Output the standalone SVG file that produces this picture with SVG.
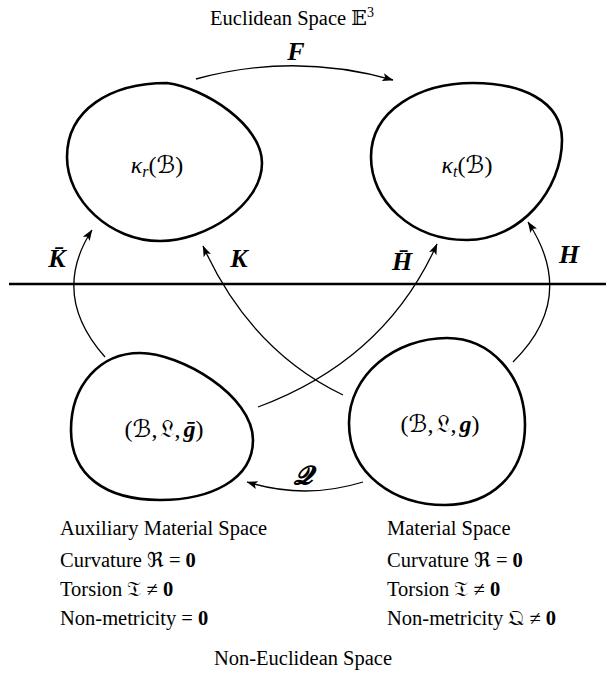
<svg xmlns="http://www.w3.org/2000/svg" width="607" height="673" viewBox="0 0 607 673">
<style>
.t{font-family:"Liberation Serif","DejaVu Serif","DejaVu Sans",serif;font-size:20.5px;fill:#000}
.m{font-family:"Liberation Serif","DejaVu Serif","DejaVu Sans",serif;font-size:24px;fill:#000}
.lb{font-family:"Liberation Serif","DejaVu Serif",serif;font-size:26px;font-weight:bold;font-style:italic;fill:#000}
.b{font-weight:bold}
.blob{fill:none;stroke:#000;stroke-width:2.6}
.c{fill:none;stroke:#000;stroke-width:1.3}
.sep{stroke:#000;stroke-width:2.6}
</style>
<defs>
<marker id="ah" viewBox="0 0 11 8" refX="10.5" refY="4" markerWidth="11" markerHeight="8" markerUnits="userSpaceOnUse" orient="auto">
<path d="M0,0 L11,4 L0,8 L2.5,4 Z" fill="#000"/>
</marker>
</defs>

<text class="t" x="292" y="25" text-anchor="middle">Euclidean Space 𝔼<tspan dy="-8" font-size="14">3</tspan></text>

<g id="kappa_r">
<path class="blob" d="M167,83 C205,88 262,125 262,163 C262,205 205,241 160,241 C110,241 67,200 67,157 C67,110 110,83 167,83 Z"/>
<text class="m" x="157" y="173" text-anchor="middle"><tspan font-style="italic">κ</tspan><tspan font-style="italic" font-size="16" dy="4">r</tspan><tspan dy="-4">(ℬ)</tspan></text>
</g>

<g id="kappa_t">
<path class="blob" d="M473,83 C520,83 562,100 562,140 C562,190 520,240 467,240 C410,240 371,200 371,157 C371,110 420,83 473,83 Z"/>
<text class="m" x="467" y="173" text-anchor="middle"><tspan font-style="italic">κ</tspan><tspan font-style="italic" font-size="16" dy="4">t</tspan><tspan dy="-4">(ℬ)</tspan></text>
</g>

<g id="aux_material">
<path class="blob" d="M140,353 C180,353 253,395 253,440 C253,480 210,500 160,500 C105,500 71,475 71,430 C71,385 100,353 140,353 Z"/>
<text class="m" x="164" y="437" text-anchor="middle">(ℬ,<tspan dx="3">𝔏</tspan>,<tspan dx="3" font-weight="bold" font-style="italic">ḡ</tspan>)</text>
</g>

<g id="material">
<path class="blob" d="M447,338 C490,338 525,375 525,425 C525,475 490,505 445,505 C395,505 349,475 349,423 C349,375 395,338 447,338 Z"/>
<text class="m" x="440" y="432" text-anchor="middle">(ℬ,<tspan dx="3">𝔏</tspan>,<tspan dx="3" font-weight="bold" font-style="italic">g</tspan>)</text>
</g>

<line class="sep" x1="9" y1="284" x2="606" y2="284"/>

<g id="connectors">
<path class="c" d="M196,79 Q294,52 393,80" marker-end="url(#ah)"/>
<path class="c" d="M105,357 Q50,295 92,230" marker-end="url(#ah)"/>
<path class="c" d="M343,395 Q250,350 203,246" marker-end="url(#ah)"/>
<path class="c" d="M258,407 Q385,360 437,244" marker-end="url(#ah)"/>
<path class="c" d="M513,362 Q578,298 528,222" marker-end="url(#ah)"/>
<path class="c" d="M363,482 Q305,500 247,482" marker-end="url(#ah)"/>
</g>

<g id="labels">
<text class="lb" x="296" y="60" text-anchor="middle">F</text>
<text class="lb" x="57" y="267" text-anchor="middle">K̄</text>
<text class="lb" x="239" y="267" text-anchor="middle">K</text>
<text class="lb" x="402" y="270" text-anchor="middle">H̄</text>
<text class="lb" x="569" y="263" text-anchor="middle">H</text>
<text class="lb" x="303" y="484" text-anchor="middle">𝓠</text>
</g>

<g id="aux_text">
<text class="t" x="60" y="535">Auxiliary Material Space</text>
<text class="t" x="60" y="567">Curvature ℜ = <tspan class="b">0</tspan></text>
<text class="t" x="60" y="596">Torsion 𝔗 ≠ <tspan class="b">0</tspan></text>
<text class="t" x="60" y="625">Non-metricity = <tspan class="b">0</tspan></text>
</g>

<g id="mat_text">
<text class="t" x="387" y="535">Material Space</text>
<text class="t" x="387" y="567">Curvature ℜ = <tspan class="b">0</tspan></text>
<text class="t" x="387" y="596">Torsion 𝔗 ≠ <tspan class="b">0</tspan></text>
<text class="t" x="387" y="625">Non-metricity 𝔔 ≠ <tspan class="b">0</tspan></text>
</g>

<text class="t" x="303" y="665" text-anchor="middle">Non-Euclidean Space</text>
</svg>
